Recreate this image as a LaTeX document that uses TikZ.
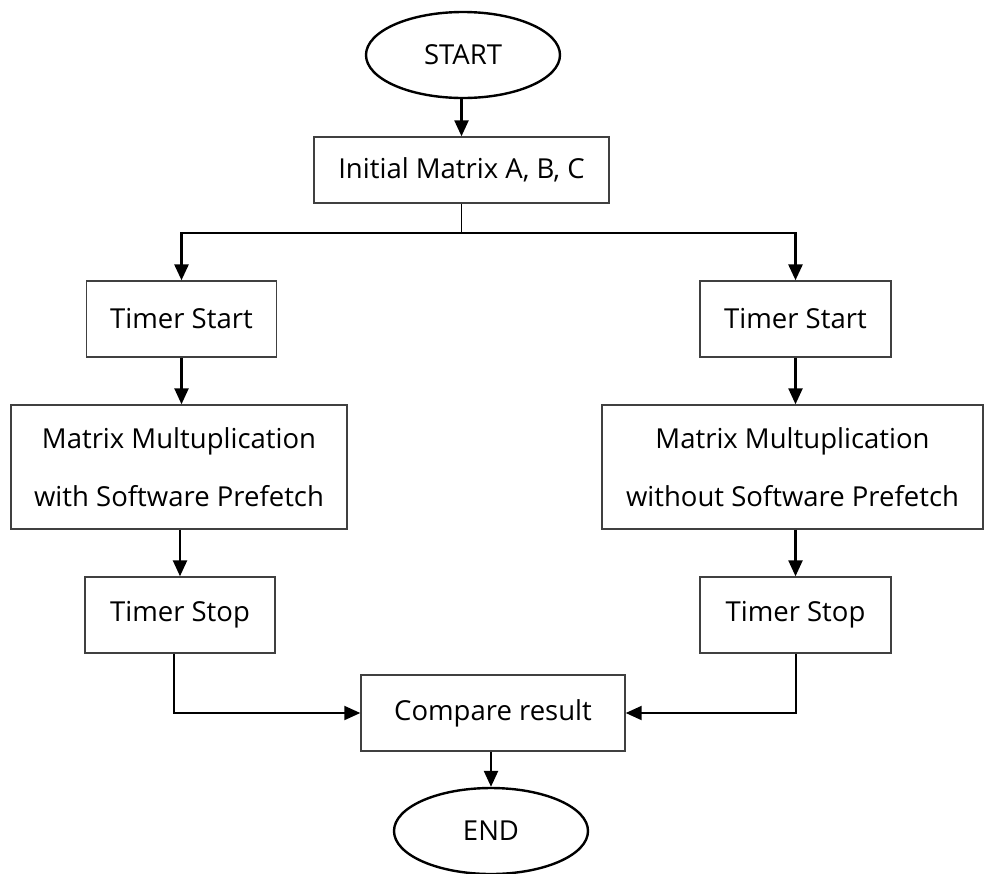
\documentclass[tikz,border=0pt]{standalone}
\usepackage{fontspec}
\setmainfont{Open Sans}
\usepackage{tikz}
\usetikzlibrary{arrows.meta,shapes.geometric}

\tikzset{
	box/.style={draw=black!75, line width=1.4pt, rectangle, inner sep=0pt, font=\fontsize{27.5}{58}\selectfont, align=center},
	term/.style={draw=black, line width=2.4pt, ellipse, inner sep=0pt, minimum width=194, minimum height=86, font=\fontsize{27.5}{58}\selectfont},
	flow/.style={line width=2.4pt, -{Triangle[length=16pt,width=14pt]}}
}

\begin{document}
\begin{tikzpicture}[x=1pt, y=-1pt]
						\useasboundingbox (0,0) rectangle (984,873);
						\node[term] (start) at (463,55) {START};
						\node[box, minimum width=295, minimum height=66] (init) at (461.5,170) {Initial Matrix A, B, C};
						\node[box, minimum width=190, minimum height=76] (ts1) at (181.5,319) {Timer Start};
						\node[box, minimum width=191, minimum height=76] (ts2) at (795.5,319) {Timer Start};
						\node[box, minimum width=336, minimum height=124] (mm1) at (179,467) {Matrix Multuplication\\with Software Prefetch};
						\node[box, minimum width=381, minimum height=124] (mm2) at (792.5,467) {Matrix Multuplication\\without Software Prefetch};
						\node[box, minimum width=190, minimum height=76] (st1) at (180,615) {Timer Stop};
						\node[box, minimum width=191, minimum height=76] (st2) at (795.5,615) {Timer Stop};
						\node[box, minimum width=264, minimum height=76] (cmp) at (493,713) {Compare result};
						\node[term] (end) at (491,831) {END};
						\coordinate (split) at (461.5,233);
						\draw[flow] (start.south -| init.north) -- (init.north);
						\draw[line width=1.4pt] (init.south) -- (split);
						\draw[flow, line width=2.8pt] (split) -| (ts1.north);
						\draw[flow, line width=2.8pt] (split) -| (ts2.north);
						\draw[flow] (ts1.south) -- (ts1.south |- mm1.north);
						\draw[flow] (ts2.south) -- (ts2.south |- mm2.north);
						\draw[flow] (mm1.south -| st1.north) -- (st1.north);
						\draw[flow] (mm2.south -| st2.north) -- (st2.north);
						\draw[flow, line width=2pt] ([xshift=-6pt]st1.south) |- (cmp.west);
						\draw[flow, line width=2pt] (st2.south) |- (cmp.east);
						\draw[flow] (cmp.south -| end.north) -- (end.north);
					\end{tikzpicture}
\end{document}
